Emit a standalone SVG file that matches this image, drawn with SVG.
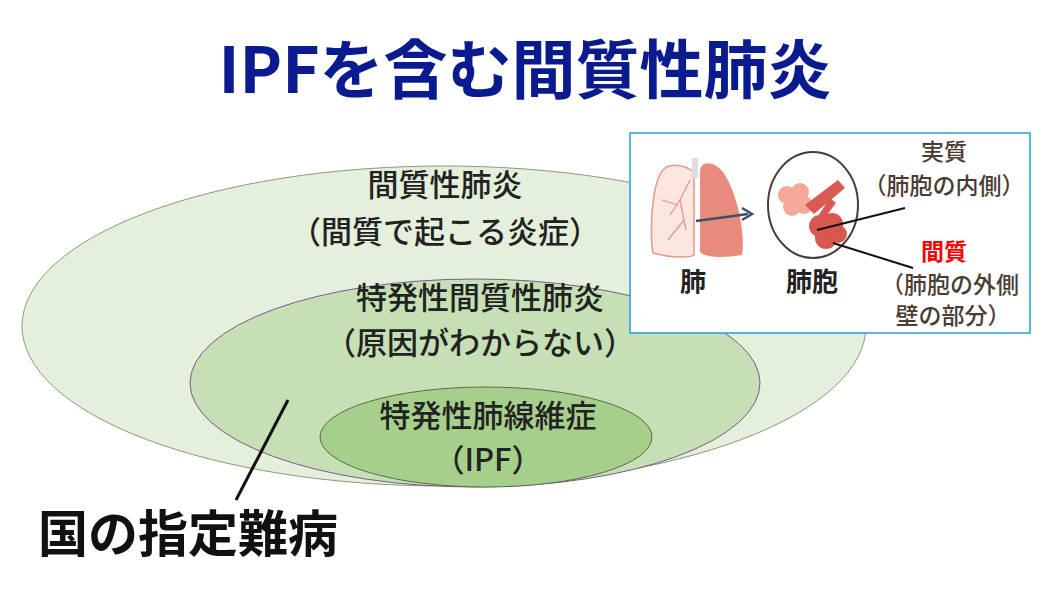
<svg xmlns="http://www.w3.org/2000/svg" width="1050" height="591" viewBox="0 0 1050 591">
<style>
text{font-family:"Noto Sans CJK JP","Noto Sans",sans-serif;font-weight:bold;text-anchor:middle}
.l{font-size:31px;fill:#222;font-weight:500}
.s{font-size:23px;fill:#4a3b33;font-weight:500}
</style>
<rect width="1050" height="591" fill="#fff"/>
<text x="525" y="93" font-size="64" fill="#0a1a8f">IPFを含む間質性肺炎</text>
<g id="outer"><ellipse cx="444" cy="326" rx="422" ry="160" fill="#e4efdc" stroke="#8a9a7a" stroke-width="1"/>
<text class="l" x="445" y="196">間質性肺炎</text><text class="l" x="445" y="243">（間質で起こる炎症）</text></g>
<g id="middle"><ellipse cx="475" cy="383" rx="285" ry="104" fill="#c6dfb4" stroke="#7a5a8a" stroke-width="1"/>
<text class="l" x="480" y="309">特発性間質性肺炎</text><text class="l" x="480" y="354">（原因がわからない）</text></g>
<g id="inner"><ellipse cx="486" cy="437" rx="166" ry="50" fill="#a6cf8c" stroke="#5a6a4a" stroke-width="1"/>
<text class="l" x="488" y="427">特発性肺線維症</text><text class="l" x="488" y="471">（IPF）</text></g>
<g id="connectors"><line x1="288" y1="400" x2="236" y2="500" stroke="#111" stroke-width="3"/></g>
<g id="label"><text x="188" y="552" font-size="50" fill="#111">国の指定難病</text></g>
<g id="inset">
<rect x="630" y="133" width="400" height="200" fill="#fff" stroke="#2a9ae0" stroke-width="1.5"/>
<path d="M665 168 C650 180 650 240 653 253 C670 258 690 258 694 255 L694 172 C685 165 672 163 665 168Z" fill="#fbe6e0" stroke="#e8958a" stroke-width="1.5"/>
<path d="M700 172 C700 160 715 160 725 175 C740 200 745 240 742 255 C725 258 705 258 700 252Z" fill="#e88a7c"/>
<rect x="692" y="158" width="6" height="20" fill="#ddd"/>
<g stroke="#e8958a" stroke-width="1.3" fill="none"><path d="M690 180 L680 200 L670 215 M680 200 L686 230 M678 205 L662 200 M684 220 L668 240"/></g>
<line x1="696" y1="221" x2="748" y2="214" stroke="#3d5066" stroke-width="2.5"/>
<path d="M742 208 L752 214 L742 220" fill="none" stroke="#3d5066" stroke-width="2.5"/>
<ellipse cx="813" cy="205" rx="45" ry="53" fill="none" stroke="#4a3b33" stroke-width="2"/>
<g fill="#f4a898"><circle cx="787" cy="195" r="9"/><circle cx="800" cy="192" r="9"/><circle cx="792" cy="207" r="9"/><circle cx="804" cy="205" r="9"/></g>
<path d="M805 205 L838 180 L845 188 L814 214Z M818 216 L830 198 L836 203 L824 219Z" fill="#d85a55"/>
<g fill="#d8574f"><circle cx="820" cy="226" r="11"/><circle cx="832" cy="224" r="11"/><circle cx="826" cy="238" r="11"/><circle cx="838" cy="234" r="9"/></g>
<text class="l" x="693" y="291" style="font-size:26px;font-weight:bold">肺</text>
<text class="l" x="812" y="291" style="font-size:26px;font-weight:bold">肺胞</text>
<line x1="817" y1="230" x2="905" y2="208" stroke="#111" stroke-width="2"/>
<line x1="833" y1="243" x2="913" y2="268" stroke="#111" stroke-width="2"/>
<text class="s" x="944" y="160">実質</text>
<text class="s" x="944" y="194">（肺胞の内側）</text>
<text class="s" x="944" y="260" style="fill:#f00;font-weight:bold">間質</text>
<text class="s" x="950" y="293">（肺胞の外側</text>
<text class="s" x="953" y="324">壁の部分）</text>
</g>
</svg>
